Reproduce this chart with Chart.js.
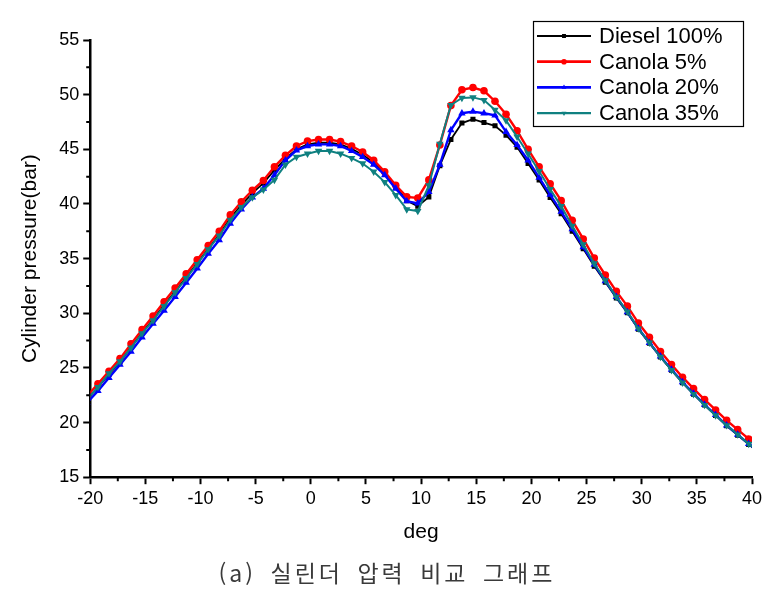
<!DOCTYPE html>
<html lang="ko">
  <head>
    <meta charset="UTF-8" />
    <title>Cylinder pressure</title>
    <script src="https://cdn.jsdelivr.net/npm/chart.js"></script>
    <style>
      * {
        margin: 0;
        padding: 0;
        box-sizing: border-box;
      }

      body {
        background: #fff;
        width: 774px;
        height: 591px;
        overflow: hidden;
      }

      .wrap {
        position: relative;
        width: 774px;
        height: 591px;
      }

      /* caption under the graph */
      .caption {
        position: absolute;
        left: 0;
        width: 774px;
        top: 555px;
        text-align: center;
        font-family: "Noto Sans CJK KR", sans-serif;
        font-size: 23px;
        letter-spacing: 3px;
        word-spacing: 5px;
        color: #3a3a3a;
      }
    </style>
  </head>
  <body>
    <div class="wrap">
      <canvas id="pressureChart" width="774" height="591"></canvas>
      <div class="caption">(a) 실린더 압력 비교 그래프</div>
    </div>

    <script>
      // crank angle (deg) of each sample
      const deg = [
        -20.3, -19.3, -18.3, -17.3, -16.3, -15.3, -14.3, -13.3, -12.3, -11.3,
        -10.3, -9.3, -8.3, -7.3, -6.3, -5.3, -4.3, -3.3, -2.3, -1.3,
        -0.3, 0.7, 1.7, 2.7, 3.7, 4.7, 5.7, 6.7, 7.7, 8.7,
        9.7, 10.7, 11.7, 12.7, 13.7, 14.7, 15.7, 16.7, 17.7, 18.7,
        19.7, 20.7, 21.7, 22.7, 23.7, 24.7, 25.7, 26.7, 27.7, 28.7,
        29.7, 30.7, 31.7, 32.7, 33.7, 34.7, 35.7, 36.7, 37.7, 38.7,
        39.7, 40.7,
      ];

      const diesel100 = [
        22.1, 23.25, 24.4, 25.55, 26.9, 28.2, 29.45, 30.75, 32.0, 33.3,
        34.6, 35.9, 37.2, 38.7, 39.9, 41.0, 41.9, 43.1, 44.15, 45.0,
        45.45, 45.6, 45.6, 45.45, 45.05, 44.5, 43.8, 42.9, 41.6, 40.3,
        39.8, 40.65, 43.5, 45.9, 47.4, 47.75, 47.45, 47.15, 46.3, 45.2,
        43.7, 42.2, 40.6, 39.1, 37.5, 35.9, 34.3, 32.85, 31.4, 30.05,
        28.55, 27.25, 26.0, 24.8, 23.65, 22.6, 21.6, 20.65, 19.7, 18.85,
        18.0, 17.2,
      ];

      const canola5 = [
        22.4, 23.55, 24.7, 25.85, 27.2, 28.5, 29.75, 31.05, 32.3, 33.6,
        34.9, 36.2, 37.5, 39.0, 40.2, 41.25, 42.15, 43.4, 44.45, 45.3,
        45.75, 45.9, 45.9, 45.7, 45.3, 44.75, 44.0, 42.95, 41.7, 40.65,
        40.55, 42.2, 45.4, 49.0, 50.45, 50.65, 50.35, 49.4, 48.2, 46.7,
        45.0, 43.4, 41.85, 40.3, 38.5, 36.8, 35.05, 33.5, 32.0, 30.65,
        29.1, 27.8, 26.5, 25.3, 24.15, 23.1, 22.1, 21.15, 20.2, 19.35,
        18.5, 17.7,
      ];

      const canola20 = [
        21.8, 22.9, 24.1, 25.3, 26.5, 27.8, 29.05, 30.25, 31.5, 32.8,
        34.1, 35.45, 36.7, 38.2, 39.5, 40.6, 41.4, 42.65, 44.0, 44.9,
        45.3, 45.45, 45.45, 45.3, 44.85, 44.3, 43.6, 42.65, 41.4, 40.25,
        40.05, 41.1, 43.6, 46.75, 48.3, 48.45, 48.3, 48.1, 46.6, 45.4,
        44.0, 42.4, 40.85, 39.3, 37.7, 36.05, 34.45, 32.95, 31.5, 30.1,
        28.6, 27.3, 26.05, 24.85, 23.7, 22.65, 21.65, 20.7, 19.75, 18.9,
        18.05, 17.25,
      ];

      const canola35 = [
        22.1, 23.25, 24.5, 25.6, 26.85, 28.15, 29.35, 30.65, 31.9, 33.2,
        34.5, 35.85, 37.1, 38.55, 39.7, 40.6, 41.3, 42.2, 43.6, 44.3,
        44.6, 44.85, 44.85, 44.6, 44.2, 43.7, 42.95, 42.0, 40.8, 39.5,
        39.35, 41.7, 45.5, 49.05, 49.7, 49.75, 49.5, 48.6, 47.65, 46.15,
        44.6, 43.0, 41.35, 39.8, 38.0, 36.3, 34.55, 33.0, 31.5, 30.15,
        28.6, 27.3, 26.0, 24.8, 23.65, 22.6, 21.6, 20.65, 19.75, 18.9,
        18.05, 17.25,
      ];

      const seriesNames = ["Diesel 100%", "Canola 5%", "Canola 20%", "Canola 35%"];
      const seriesColors = ["#000000", "#ff0000", "#0000ff", "#0f8080"];
      const yTicks = [15, 20, 25, 30, 35, 40, 45, 50, 55];
      const xTicks = [-20, -15, -10, -5, 0, 5, 10, 15, 20, 25, 30, 35, 40];

      const FONT = "'Liberation Sans', Arial, sans-serif";

      function pts(ys) {
        return deg.map((d, i) => ({ x: d, y: ys[i] }));
      }

      const datasets = [
        {
          label: seriesNames[0],
          data: pts(diesel100),
          borderColor: seriesColors[0],
          backgroundColor: seriesColors[0],
          borderWidth: 1.8,
          pointStyle: "rect",
          pointRadius: 3.6,
          order: 3,
        },
        {
          label: seriesNames[1],
          data: pts(canola5),
          borderColor: seriesColors[1],
          backgroundColor: seriesColors[1],
          borderWidth: 2.4,
          pointStyle: "circle",
          pointRadius: 3.8,
          order: 2,
        },
        {
          label: seriesNames[2],
          data: pts(canola20),
          borderColor: seriesColors[2],
          backgroundColor: seriesColors[2],
          borderWidth: 2.4,
          pointStyle: "triangle",
          pointRadius: 4.3,
          order: 1,
        },
        {
          label: seriesNames[3],
          data: pts(canola35),
          borderColor: seriesColors[3],
          backgroundColor: seriesColors[3],
          borderWidth: 2,
          pointStyle: "triangle",
          pointRotation: 180,
          pointRadius: 4.3,
          order: 0,
        },
      ];
      datasets.forEach((ds) => {
        ds.pointBorderWidth = 0;
        ds.tension = 0;
        ds.clip = 0;
        ds.fill = false;
      });

      // short minor ticks half way between the labelled ones
      const minorTicks = {
        id: "minorTicks",
        afterDraw(chart) {
          const ctx = chart.ctx;
          const xs = chart.scales.x;
          const ys = chart.scales.y;
          ctx.save();
          ctx.strokeStyle = "#000";
          ctx.lineWidth = 2;
          ctx.beginPath();
          for (let i = 0; i < xTicks.length - 1; i++) {
            const px = xs.getPixelForValue((xTicks[i] + xTicks[i + 1]) / 2);
            ctx.moveTo(px, xs.top);
            ctx.lineTo(px, xs.top + 4);
          }
          for (let i = 0; i < yTicks.length - 1; i++) {
            const py = ys.getPixelForValue((yTicks[i] + yTicks[i + 1]) / 2);
            ctx.moveTo(ys.right, py);
            ctx.lineTo(ys.right - 4, py);
          }
          ctx.stroke();
          ctx.restore();
        },
      };

      // boxed legend in the top right corner, like Origin draws it
      const boxLegend = {
        id: "boxLegend",
        afterDraw(chart) {
          const ctx = chart.ctx;
          const bx = 533, by = 21, bw = 210, bh = 105;
          ctx.save();
          ctx.fillStyle = "#fff";
          ctx.fillRect(bx, by, bw, bh);
          ctx.strokeStyle = "#000";
          ctx.lineWidth = 1.2;
          ctx.strokeRect(bx + 0.5, by + 0.5, bw, bh);
          ctx.font = "22px " + FONT;
          ctx.textBaseline = "middle";
          seriesNames.forEach((name, i) => {
            const ds = chart.data.datasets[i];
            const y = by + 15 + i * 25.7;
            ctx.strokeStyle = ds.borderColor;
            ctx.lineWidth = ds.borderWidth + 0.4;
            ctx.beginPath();
            ctx.moveTo(bx + 4, y);
            ctx.lineTo(bx + 58, y);
            ctx.stroke();
            ctx.fillStyle = ds.backgroundColor;
            Chart.helpers.drawPoint(
              ctx,
              {
                pointStyle: ds.pointStyle,
                rotation: ds.pointRotation || 0,
                radius: 2.8,
                borderWidth: 0,
              },
              bx + 31,
              y
            );
            ctx.fillStyle = "#000";
            ctx.fillText(name, bx + 66, y + 1);
          });
          ctx.restore();
        },
      };

      new Chart(document.getElementById("pressureChart"), {
        type: "line",
        data: { datasets },
        plugins: [minorTicks, boxLegend],
        options: {
          responsive: false,
          animation: false,
          layout: { padding: { left: 18, right: 22, top: 40, bottom: 46 } },
          plugins: {
            legend: { display: false },
            tooltip: { enabled: false },
          },
          scales: {
            x: {
              type: "linear",
              min: -20,
              max: 40,
              afterBuildTicks: (s) => {
                s.ticks = xTicks.map((v) => ({ value: v }));
              },
              border: { display: true, color: "#000", width: 2.5 },
              grid: {
                drawOnChartArea: false,
                drawTicks: true,
                tickLength: 7,
                tickWidth: 2,
                tickColor: "#000",
              },
              ticks: {
                color: "#000",
                padding: 4,
                maxRotation: 0,
                font: { family: FONT, size: 18 },
              },
              title: {
                display: true,
                text: "deg",
                color: "#000",
                padding: { top: 6, bottom: 0 },
                font: { family: FONT, size: 21 },
              },
            },
            y: {
              type: "linear",
              min: 15,
              max: 55,
              afterBuildTicks: (s) => {
                s.ticks = yTicks.map((v) => ({ value: v }));
              },
              border: { display: true, color: "#000", width: 2.5 },
              grid: {
                drawOnChartArea: false,
                drawTicks: true,
                tickLength: 7,
                tickWidth: 2,
                tickColor: "#000",
              },
              ticks: {
                color: "#000",
                padding: 4,
                font: { family: FONT, size: 18 },
              },
              title: {
                display: true,
                text: "Cylinder pressure(bar)",
                color: "#000",
                padding: { top: 0, bottom: 12 },
                font: { family: FONT, size: 21 },
              },
            },
          },
        },
      });
    </script>
  </body>
</html>
